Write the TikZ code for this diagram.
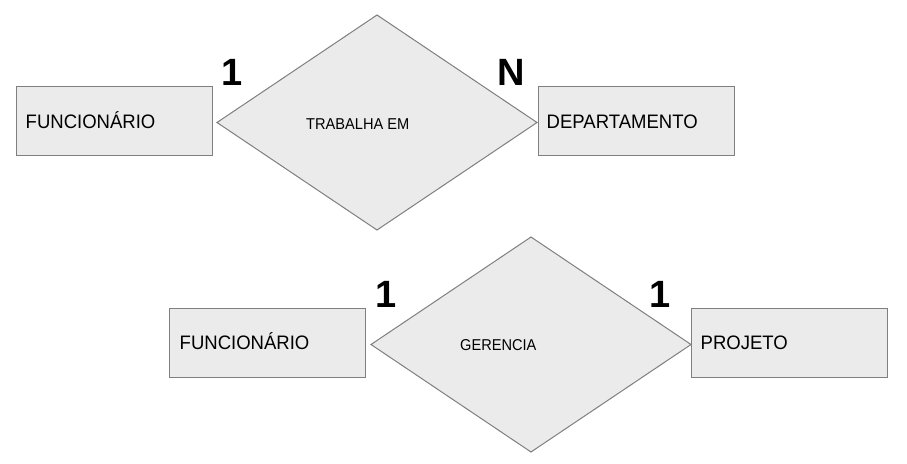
\documentclass[tikz,border=0pt]{standalone}
\usepackage{fontspec}
\setmainfont{Liberation Sans}
\newfontfamily\entfont[FakeStretch=0.95]{Liberation Sans}
\newfontfamily\relfont[FakeStretch=0.93]{Liberation Sans}
\usetikzlibrary{shapes.geometric}
\definecolor{boxfill}{HTML}{EBEBEB}
\definecolor{boxline}{HTML}{7F7F7F}
\begin{document}
\begin{tikzpicture}[x=1pt,y=-1pt,
  entity/.style={draw=boxline,fill=boxfill,line width=1.1pt,rectangle,minimum width=196pt,minimum height=69pt,inner sep=0pt,anchor=north west},
  relation/.style={draw=boxline,fill=boxfill,line width=1pt,diamond,minimum width=320pt,minimum height=215pt,inner sep=0pt,outer sep=0pt},
  etext/.style={anchor=base west,inner sep=0pt,font=\entfont\fontsize{19.5}{21}\selectfont},
  rtext/.style={anchor=base west,inner sep=0pt,font=\relfont\fontsize{15.7}{17}\selectfont},
  card/.style={anchor=base,inner sep=0pt,font=\fontsize{38}{40}\selectfont\bfseries}]
\useasboundingbox (0,0) rectangle (907,463);
% top row
\node[entity] (func1) at (16,86) {};
\node[relation] (trab) at (377,122.5) {};
\node[entity] (dept) at (538,86) {};
\node[etext] (tfunc1) at (25.5,128) {FUNCIONÁRIO};
\node[rtext] (ttrab) at (306,129) {TRABALHA EM};
\node[etext] (tdept) at (546.5,128) {DEPARTAMENTO};
\node[card] (c1) at (232,85) {1};
\node[card] (c2) at (511,85) {N};
% bottom row
\node[entity] (func2) at (169,308) {};
\node[relation] (ger) at (531,344.5) {};
\node[entity] (proj) at (691,308) {};
\node[etext] (tfunc2) at (179.5,349) {FUNCIONÁRIO};
\node[rtext] (tger) at (460,350.5) {GERENCIA};
\node[etext] (tproj) at (700.5,349) {PROJETO};
\node[card] (c3) at (386,307) {1};
\node[card] (c4) at (660,307) {1};
\end{tikzpicture}
\end{document}
